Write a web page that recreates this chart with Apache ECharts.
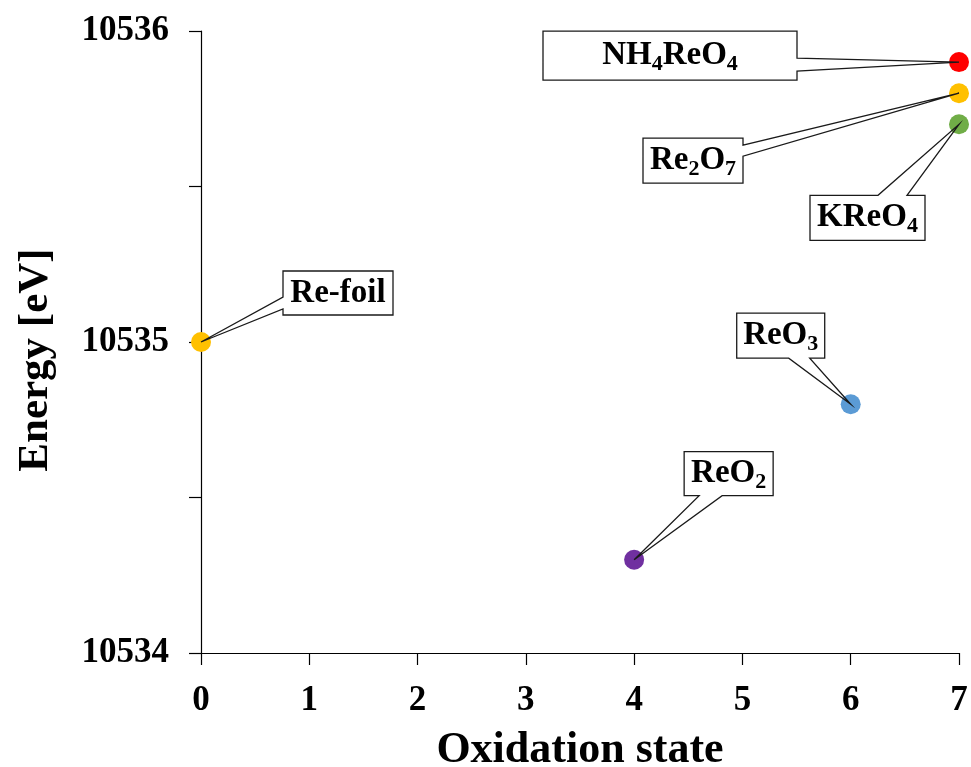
<!DOCTYPE html>
<html>
<head>
<meta charset="utf-8">
<script src="https://cdn.jsdelivr.net/npm/echarts@6/dist/echarts.min.js"></script>
<style>
  html, body { margin: 0; padding: 0; background: #fff; }
  #chart { width: 971px; height: 767px; }
</style>
</head>
<body>
<div id="chart"></div>
<script>
// Rhenium L3 edge energy versus oxidation state
const compounds = ['NH4ReO4', 'Re2O7', 'KReO4', 'ReO3', 'ReO2', 'Re-foil'];
const oxidationStates = [7, 7, 7, 6, 4, 0];
const edgeEnergies = [10535.9, 10535.8, 10535.7, 10534.8, 10534.3, 10535.0];
const yTickLabels = ['10534', '10535', '10536'];

const markerColors = ['#FF0000', '#FFC000', '#70AD47', '#5B9BD5', '#7030A0', '#FFC000'];

// Callout boxes: offset of box from its point, box size, side the pointer leaves from
// and where along that side the pointer's two edges start.
const calloutLayout = [
  { dx: -416, dy: -31, w: 254, h: 49, side: 'right', at: [27, 40] },
  { dx: -316, dy: 45, w: 100, h: 45, side: 'right', at: [7, 18] },
  { dx: -149, dy: 71, w: 115, h: 45, side: 'top', at: [68, 97] },
  { dx: -114, dy: -91, w: 88, h: 45, side: 'bottom', at: [52, 73] },
  { dx: 50, dy: -108, w: 89, h: 44, side: 'bottom', at: [15, 38] },
  { dx: 82, dy: -71, w: 110, h: 44, side: 'left', at: [26, 38] }
];

const FONT = '"Liberation Serif", "Times New Roman", serif';

// Chemical formula -> rich text with digits as subscripts
function formulaRich(name) {
  return name.replace(/(\d+)|([^\d]+)/g, (m, d, t) => d ? '{s|' + d + '}' : '{t|' + t + '}');
}

const richStyles = {
  t: { fontFamily: FONT, fontWeight: 'bold', fontSize: 33, lineHeight: 40, color: '#000' },
  s: { fontFamily: FONT, fontWeight: 'bold', fontSize: 22, lineHeight: 18, verticalAlign: 'bottom', color: '#000' }
};

function calloutShape(p, L) {
  const x0 = p[0] + L.dx, y0 = p[1] + L.dy, x1 = x0 + L.w, y1 = y0 + L.h;
  const tip = [p[0], p[1]];
  const a = L.at[0], b = L.at[1];
  let pts;
  switch (L.side) {
    case 'top':
      pts = [[x0, y0], [x0 + a, y0], tip, [x0 + b, y0], [x1, y0], [x1, y1], [x0, y1]]; break;
    case 'right':
      pts = [[x0, y0], [x1, y0], [x1, y0 + a], tip, [x1, y0 + b], [x1, y1], [x0, y1]]; break;
    case 'bottom':
      pts = [[x0, y0], [x1, y0], [x1, y1], [x0 + b, y1], tip, [x0 + a, y1], [x0, y1]]; break;
    default:
      pts = [[x0, y0], [x1, y0], [x1, y1], [x0, y1], [x0, y0 + b], tip, [x0, y0 + a]];
  }
  return { pts: pts, cx: (x0 + x1) / 2, cy: (y0 + y1) / 2 };
}

const points = oxidationStates.map((x, i) => [x, edgeEnergies[i], i]);

const chart = echarts.init(document.getElementById('chart'), null, { renderer: 'canvas' });

const axisText = { fontFamily: FONT, fontWeight: 'bold', color: '#000' };

chart.setOption({
  animation: false,
  backgroundColor: '#fff',
  grid: { left: 201, right: 12, top: 31, bottom: 114, containLabel: false, outerBoundsMode: 'none' },
  xAxis: {
    type: 'value',
    min: 0, max: 7, interval: 1,
    name: 'Oxidation state',
    nameLocation: 'middle',
    nameGap: 76,
    nameTextStyle: Object.assign({ fontSize: 44 }, axisText),
    axisLine: { show: true, onZero: false, lineStyle: { color: '#000', width: 1.2 } },
    axisTick: { show: true, length: 12, lineStyle: { color: '#000', width: 1.2 } },
    axisLabel: Object.assign({ fontSize: 35, margin: 30 }, axisText),
    splitLine: { show: false }
  },
  yAxis: {
    type: 'value',
    min: 10534, max: 10536, interval: 0.5,
    name: 'Energy [eV]',
    nameLocation: 'middle',
    nameGap: 144,
    nameTextStyle: Object.assign({ fontSize: 43, padding: [0, 36, 0, 0] }, axisText),
    axisLine: { show: true, onZero: false, lineStyle: { color: '#000', width: 1.2 } },
    axisTick: { show: true, length: 12, lineStyle: { color: '#000', width: 1.2 } },
    axisLabel: Object.assign({
      fontSize: 35, margin: 32,
      formatter: v => yTickLabels.indexOf(String(v)) >= 0 ? String(v) : ''
    }, axisText),
    splitLine: { show: false }
  },
  series: [
    {
      // white fill of the callouts, kept beneath the markers
      type: 'custom',
      z: 1,
      silent: true,
      data: points,
      renderItem: (params, api) => {
        const i = api.value(2);
        const p = api.coord([api.value(0), api.value(1)]);
        const s = calloutShape(p, calloutLayout[i]);
        return { type: 'polygon', shape: { points: s.pts }, style: { fill: '#fff', stroke: null } };
      }
    },
    {
      type: 'scatter',
      z: 2,
      symbol: 'circle',
      symbolSize: 20,
      data: points.map((d, i) => ({ value: d, itemStyle: { color: markerColors[i], opacity: 1 } }))
    },
    {
      // callout outlines and formula text
      type: 'custom',
      z: 3,
      silent: true,
      data: points,
      renderItem: (params, api) => {
        const i = api.value(2);
        const p = api.coord([api.value(0), api.value(1)]);
        const s = calloutShape(p, calloutLayout[i]);
        return {
          type: 'group',
          children: [
            { type: 'polygon', shape: { points: s.pts },
              style: { fill: null, stroke: '#1a1a1a', lineWidth: 1.3, lineJoin: 'miter' } },
            { type: 'text', x: s.cx, y: s.cy,
              style: { text: formulaRich(compounds[i]), rich: richStyles,
                       align: 'center', verticalAlign: 'middle' } }
          ]
        };
      }
    }
  ]
});
</script>
</body>
</html>
